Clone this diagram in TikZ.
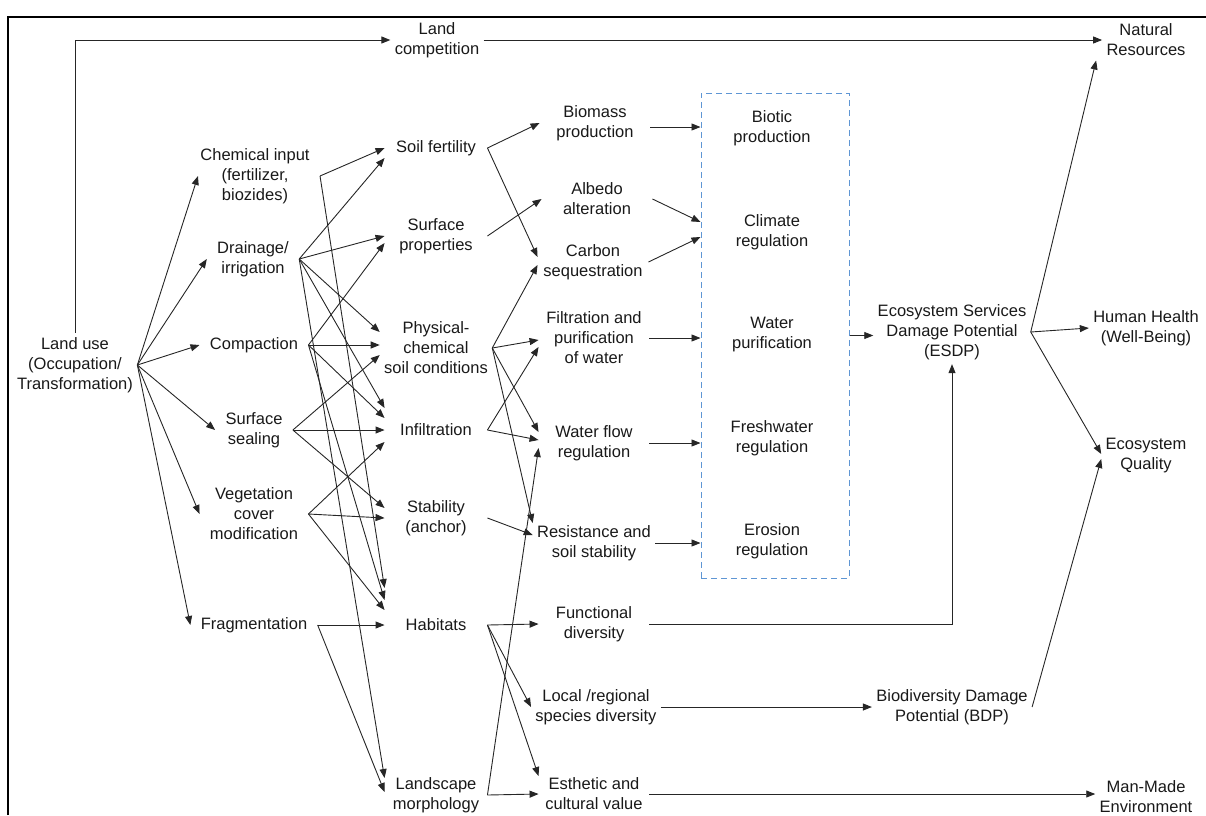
\documentclass[tikz,border=0pt]{standalone}
\usepackage{fontspec}
\setmainfont{Liberation Sans}
\usetikzlibrary{arrows.meta}
\definecolor{boxblue}{RGB}{95,150,212}
\begin{document}
\begin{tikzpicture}[x=1pt,y=-1pt,
    every node/.style={font=\fontsize{16.5}{20}\selectfont, align=center, inner sep=4pt, text=black!90},
    cause/.style={inner xsep=10pt},
    prop/.style={minimum width=102pt},
    func/.style={minimum width=110pt},
    esbox/.style={draw=boxblue, dash pattern=on 6pt off 4pt, line width=1pt, minimum width=148pt, minimum height=485pt},
    >={Triangle[length=9pt,width=7pt]},
    line width=0.9pt]
  \useasboundingbox (0,0) rectangle (1206,815);
  \draw[line width=1.6pt] (8,815) -- (8,17) -- (1206,17);
  \draw
    (75,365) node (landuse){Land use\\(Occupation/\\Transformation)}
    (437,40) node (landcomp){Land\\competition}
    (1146,40) node (natres){Natural\\Resources}
    (255,176) node[cause] (chem){Chemical input\\(fertilizer,\\biozides)}
    (253,259) node[cause] (drain){Drainage/\\irrigation}
    (254,345) node[cause] (compac){Compaction}
    (254,430) node[cause] (sealing){Surface\\sealing}
    (254,514) node[cause] (veget){Vegetation\\cover\\modification}
    (254,625) node[cause] (frag){Fragmentation}
    (436,148) node[prop] (soilf){Soil fertility}
    (436,236) node[prop] (surfp){Surface\\properties}
    (436,348) node[prop] (physc){Physical-\\chemical\\soil conditions}
    (436,430) node[prop] (infil){Infiltration}
    (436,518) node[prop] (stab){Stability\\(anchor)}
    (436,625) node[prop] (habit){Habitats}
    (436,795) node[prop] (landsc){Landscape\\morphology}
    (595,123) node[func] (biom){Biomass\\production}
    (597,199) node[func] (albedo){Albedo\\alteration}
    (593,262) node[func] (carbon){Carbon\\sequestration}
    (594,338) node[func] (filtr){Filtration and\\purification\\of water}
    (594,443) node[func] (wflow){Water flow\\regulation}
    (594,543) node[func] (resist){Resistance and\\soil stability}
    (594,624) node[func] (funct){Functional\\diversity}
    (596,707) node[func] (local){Local /regional\\species diversity}
    (594,794) node[func] (esthet){Esthetic and\\cultural value}
    (775,335.5) node[esbox] (box){}
    (772,128) node (biotic){Biotic\\production}
    (772,232) node (climate){Climate\\regulation}
    (772,335) node (waterp){Water\\purification}
    (772,438) node (fresh){Freshwater\\regulation}
    (772,541) node (erosion){Erosion\\regulation}
    (952,332) node (esdp){Ecosystem Services\\Damage Potential\\(ESDP)}
    (952,707) node (bdp){Biodiversity Damage\\Potential (BDP)}
    (1146,328) node (health){Human Health\\(Well-Being)}
    (1146,456) node (ecoq){Ecosystem\\Quality}
    (1146,797) node (manmade){Man-Made\\Environment};
  \begin{scope}[->, draw=black!85]
    \draw (landuse.north) |- (landcomp.west);
    \draw (landcomp.east) -- (landcomp.east -| natres.west);
    % land use to the drivers
    \draw (landuse.east) -- ([xshift=8pt]chem.west);
    \draw (landuse.east) -- (drain.west);
    \draw (landuse.east) -- (compac.west);
    \draw (landuse.east) -- (sealing.west);
    \draw (landuse.east) -- (veget.west);
    \draw (landuse.east) -- (frag.west);
    % drivers to soil and landscape properties
    \draw (chem.east) -- (soilf.west);
    \draw (chem.east) -- ([yshift=37pt]habit.west);
    \draw (drain.east) -- ([yshift=-10pt]soilf.west);
    \draw (drain.east) -- (surfp.west);
    \draw (drain.east) -- ([yshift=16pt]physc.west);
    \draw (drain.east) -- ([yshift=22pt]infil.west);
    \draw (drain.east) -- ([yshift=17pt]landsc.west);
    \draw (compac.east) -- ([yshift=-7pt]surfp.west);
    \draw (compac.east) -- ([yshift=3pt]physc.west);
    \draw (compac.east) -- ([yshift=12pt]infil.west);
    \draw (compac.east) -- ([yshift=25pt]habit.west);
    \draw (sealing.east) -- ([yshift=-7pt]physc.west);
    \draw (sealing.east) -- (infil.west);
    \draw (sealing.east) -- ([yshift=10pt]stab.west);
    \draw (veget.east) -- ([yshift=-12pt]infil.west);
    \draw (veget.east) -- (stab.west);
    \draw (veget.east) -- ([yshift=15pt]habit.west);
    \draw (frag.east) -- (habit.west);
    \draw (frag.east) -- ([yshift=3pt]landsc.west);
    % properties to functions
    \draw (soilf.east) -- (biom.west);
    \draw (soilf.east) -- ([yshift=5pt]carbon.west);
    \draw (surfp.east) -- (albedo.west);
    \draw (physc.east) -- ([yshift=-3pt]carbon.west);
    \draw (physc.east) -- ([yshift=-2pt]filtr.west);
    \draw (physc.east) -- ([yshift=11pt]wflow.west);
    \draw (physc.east) -- ([yshift=20pt]resist.west);
    \draw (infil.east) -- ([yshift=-9pt]filtr.west);
    \draw (infil.east) -- ([yshift=3pt]wflow.west);
    \draw (stab.east) -- ([yshift=8pt]resist.west);
    \draw (landsc.east) -- ([yshift=-5pt]wflow.west);
    \draw (landsc.east) -- (esthet.west);
    \draw (habit.east) -- (funct.west);
    \draw (habit.east) -- (local.west);
    \draw (habit.east) -- ([yshift=18pt]esthet.west);
    % functions to ecosystem services
    \draw ([yshift=-4pt]biom.east) -- ([yshift=-4pt]biom.east -| box.west);
    \draw (albedo.east) -- ([yshift=10pt]box.west |- climate);
    \draw (carbon.east) -- ([yshift=-5pt]box.west |- climate);
    \draw (filtr.east) -- (filtr.east -| box.west);
    \draw (wflow.east) -- (wflow.east -| box.west);
    \draw (resist.east) -- (resist.east -| box.west);
    % damage potentials and areas of protection
    \draw (box.east) -- (box.east -| esdp.west);
    \draw (funct.east) -| (esdp.south);
    \draw (local.east) -- (local.east -| bdp.west);
    \draw (esthet.east) -- (esthet.east -| manmade.west);
    \draw (esdp.east) -- ([xshift=-6pt]natres.south west);
    \draw (esdp.east) -- (health.west);
    \draw (esdp.east) -- ([yshift=2pt]ecoq.west);
    \draw (bdp.east) -- ([yshift=-3pt]ecoq.west);
  \end{scope}
\end{tikzpicture}
\end{document}
